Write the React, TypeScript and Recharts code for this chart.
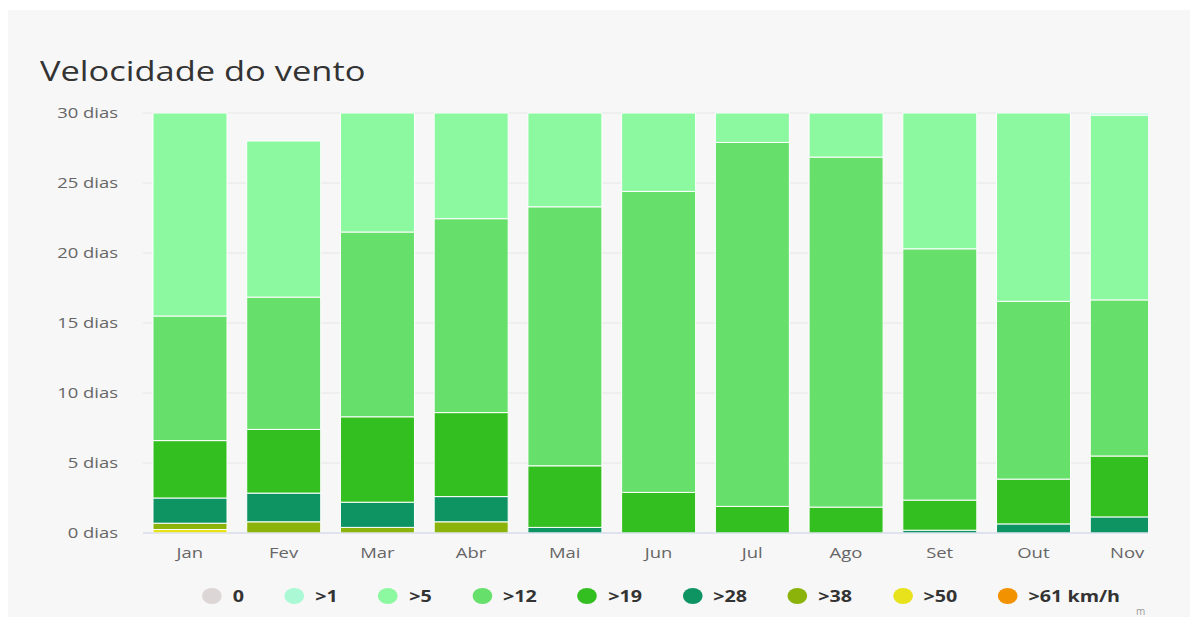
import { BarChart, Bar, XAxis, YAxis, CartesianGrid } from 'recharts';

// dias por classe de velocidade do vento (km/h), por mês
const MONTHS = ['Jan', 'Fev', 'Mar', 'Abr', 'Mai', 'Jun', 'Jul', 'Ago', 'Set', 'Out', 'Nov'];
const CALM = [0, 0, 0, 0, 0, 0, 0, 0, 0, 0, 0];
const GT1 = [0, 0, 0, 0, 0, 0, 0, 0, 0, 0, 0.15];
const GT5 = [14.5, 11.15, 8.5, 7.55, 6.7, 5.6, 2.1, 3.15, 9.7, 13.45, 13.2];
const GT12 = [8.9, 9.45, 13.2, 13.85, 18.5, 21.5, 26.0, 25.0, 17.95, 12.7, 11.15];
const GT19 = [4.1, 4.55, 6.1, 6.0, 4.4, 2.9, 1.9, 1.85, 2.15, 3.2, 4.35];
const GT28 = [1.8, 2.05, 1.8, 1.8, 0.4, 0, 0, 0, 0.2, 0.65, 1.15];
const GT38 = [0.45, 0.8, 0.4, 0.8, 0, 0, 0, 0, 0, 0, 0];
const GT50 = [0.25, 0, 0, 0, 0, 0, 0, 0, 0, 0, 0];
const GT61 = [0, 0, 0, 0, 0, 0, 0, 0, 0, 0, 0];
const Y_TICKS = [0, 5, 10, 15, 20, 25, 30];

// bottom of the stack first
const SERIES = [
  { key: 'gt61', label: '>61 km/h', color: '#f39200', values: GT61 },
  { key: 'gt50', label: '>50', color: '#e8e21c', values: GT50 },
  { key: 'gt38', label: '>38', color: '#8bb30a', values: GT38 },
  { key: 'gt28', label: '>28', color: '#0e9462', values: GT28 },
  { key: 'gt19', label: '>19', color: '#33bf1f', values: GT19 },
  { key: 'gt12', label: '>12', color: '#66df6b', values: GT12 },
  { key: 'gt5', label: '>5', color: '#8cf8a0', values: GT5 },
  { key: 'gt1', label: '>1', color: '#aaf8d4', values: GT1 },
  { key: 'calm', label: '0', color: '#dcd6d6', values: CALM },
];

const data = MONTHS.map((m, i) => {
  const row: Record<string, string | number> = { month: m };
  SERIES.forEach((s) => {
    row[s.key] = s.values[i];
  });
  return row;
});

const FONT = '"Open Sans", "DejaVu Sans", sans-serif';
// the source picture is stretched sideways, text included
const STRETCH = 1.23;

function XTick(props: any) {
  const { x, y, payload } = props;
  return (
    <text
      x={x}
      y={y}
      dy="0.71em"
      textAnchor="middle"
      fill="#666"
      fontSize={15}
      fontFamily={FONT}
      transform={`translate(${x},0) scale(${STRETCH},1) translate(${-x},0)`}
    >
      {payload.value}
    </text>
  );
}

function YTick(props: any) {
  const { x, y, payload } = props;
  return (
    <text
      x={x}
      y={y}
      dy="0.355em"
      textAnchor="end"
      fill="#666"
      fontSize={15}
      fontFamily={FONT}
      transform={`translate(${x},0) scale(${STRETCH},1) translate(${-x},0)`}
    >
      {`${payload.value} dias`}
    </text>
  );
}

export default function App() {
  const legendItems = [...SERIES].reverse();

  return (
    <div
      style={{
        position: 'relative',
        width: 1182,
        height: 607,
        marginTop: 2,
        background: '#f7f7f7',
        fontFamily: FONT,
        overflow: 'hidden',
      }}
    >
      <div
        style={{
          position: 'absolute',
          left: 32,
          top: 42,
          fontSize: 28,
          color: '#333',
          lineHeight: '36px',
          whiteSpace: 'nowrap',
          transform: `scaleX(${STRETCH})`,
          transformOrigin: 'left center',
        }}
      >
        Velocidade do vento
      </div>

      <div style={{ position: 'absolute', left: 0, top: 90, width: 1140, height: 470, overflow: 'hidden' }}>
        <BarChart
          width={1170}
          height={463}
          data={data}
          margin={{ top: 13, right: 4, bottom: 0, left: 0 }}
          barCategoryGap={10}
        >
          <CartesianGrid vertical={false} stroke="#e6e6e6" />
          <XAxis
            dataKey="month"
            height={30}
            tickLine={false}
            tickMargin={8}
            axisLine={{ stroke: '#ccd6eb' }}
            tick={<XTick />}
            interval={0}
          />
          <YAxis
            width={135}
            domain={[0, 30]}
            ticks={Y_TICKS}
            axisLine={false}
            tickLine={false}
            tickSize={0}
            tickMargin={25}
            tick={<YTick />}
          />
          {SERIES.map((s) => (
            <Bar
              key={s.key}
              dataKey={s.key}
              stackId="v"
              fill={s.color}
              stroke="#ffffff"
              strokeWidth={1}
              isAnimationActive={false}
            />
          ))}
        </BarChart>
      </div>

      <div
        style={{
          position: 'absolute',
          left: 194,
          top: 574,
          display: 'flex',
          alignItems: 'center',
          height: 24,
          whiteSpace: 'nowrap',
          transform: `scaleX(${STRETCH})`,
          transformOrigin: 'left center',
        }}
      >
        {legendItems.map((s) => (
          <div key={s.key} style={{ display: 'flex', alignItems: 'center', marginRight: 33 }}>
            <span
              style={{
                display: 'inline-block',
                width: 16,
                height: 16,
                borderRadius: '50%',
                background: s.color,
                marginRight: 9,
              }}
            />
            <span style={{ fontSize: 16, fontWeight: 'bold', color: '#333' }}>{s.label}</span>
          </div>
        ))}
      </div>

      <div style={{ position: 'absolute', left: 1128, top: 594, fontSize: 10, color: '#999' }}>m</div>
    </div>
  );
}
